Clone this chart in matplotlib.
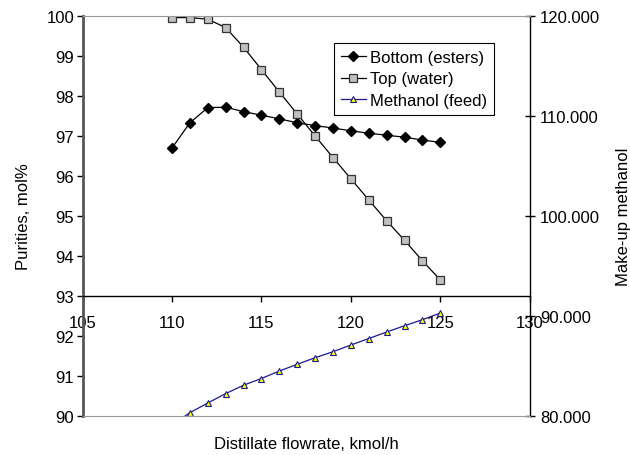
import matplotlib
matplotlib.use("Agg")
import matplotlib.pyplot as plt
from matplotlib.ticker import FormatStrFormatter, MultipleLocator

plt.rcParams["font.family"] = ["Liberation Sans", "DejaVu Sans"]
plt.rcParams["font.size"] = 12

# distillate flowrate, kmol/h
flow = [110, 111, 112, 113, 114, 115, 116, 117, 118, 119, 120, 121, 122, 123, 124, 125]
# purities, mol%
bottom_esters = [96.70, 97.33, 97.71, 97.72, 97.61, 97.52, 97.43, 97.33, 97.26,
                 97.20, 97.13, 97.07, 97.02, 96.97, 96.90, 96.84]
top_water = [99.96, 99.96, 99.92, 99.71, 99.22, 98.66, 98.10, 97.55, 97.00,
             96.46, 95.93, 95.40, 94.88, 94.39, 93.88, 93.40]
# make-up methanol (right axis)
methanol_feed = [79.1, 80.33, 81.30, 82.24, 83.08, 83.75, 84.50, 85.17, 85.83,
                 86.43, 87.10, 87.75, 88.40, 89.03, 89.63, 90.30]

fig = plt.figure(figsize=(6.3, 4.56), dpi=100)
ax = fig.add_axes([0.131, 0.0855, 0.710, 0.8772])
ax2 = ax.twinx()

l1, = ax.plot(flow, bottom_esters, color="black", lw=0.9, marker="D", ms=5,
              mfc="black", mec="black", label="Bottom (esters)")
l2, = ax.plot(flow, top_water, color="black", lw=0.9, marker="s", ms=5.5,
              mfc="#c0c0c0", mec="#333333", mew=0.9, label="Top (water)")
l3, = ax2.plot(flow, methanol_feed, color="#1a1a8c", lw=0.9, marker="^", ms=4.5,
               mfc="#ffff00", mec="#1a1a8c", mew=0.8, label="Methanol (feed)")

ax.set_xlim(105, 130)
ax.set_ylim(90, 100)
ax2.set_ylim(80, 120)
ax.xaxis.set_major_locator(MultipleLocator(5))
ax.yaxis.set_major_locator(MultipleLocator(1))
ax2.yaxis.set_major_locator(MultipleLocator(10))
ax2.yaxis.set_major_formatter(FormatStrFormatter("%.3f"))

# x axis crosses at 93
ax.spines["bottom"].set_position(("data", 93))
ax.spines["bottom"].set_color("black")
ax.spines["bottom"].set_linewidth(1.0)
ax.spines["top"].set_visible(False)
ax.spines["right"].set_visible(False)
ax.spines["left"].set_color("#555555")
ax.spines["left"].set_linewidth(2.0)
ax2.spines["left"].set_visible(False)
ax2.spines["top"].set_color("#999999")
ax2.spines["bottom"].set_color("#999999")
ax2.spines["right"].set_color("black")
ax2.spines["right"].set_linewidth(1.0)

ax.tick_params(axis="x", direction="out", length=4, width=1, pad=10, labelsize=12)
ax.tick_params(axis="y", direction="out", length=4, width=1, pad=2, labelsize=12)
ax2.tick_params(axis="y", direction="inout", length=7, width=1, pad=4, labelsize=12)

ax.set_ylabel("Purities, mol%", fontsize=12, labelpad=11)
ax2.set_ylabel("Make-up methanol", fontsize=12, labelpad=11)
fig.text(0.486, 0.025, "Distillate flowrate, kmol/h", ha="center", va="center", fontsize=12)

leg = fig.legend(handles=[l1, l2, l3], loc="upper left",
                 bbox_to_anchor=(0.530, 0.9035), fancybox=False, shadow=False,
                 edgecolor="black", framealpha=1, fontsize=12, handlelength=1.5,
                 handletextpad=0.25, borderpad=0.4, labelspacing=0.4,
                 borderaxespad=0)
leg.get_frame().set_linewidth(0.8)

fig.savefig("out.png", dpi=100)
